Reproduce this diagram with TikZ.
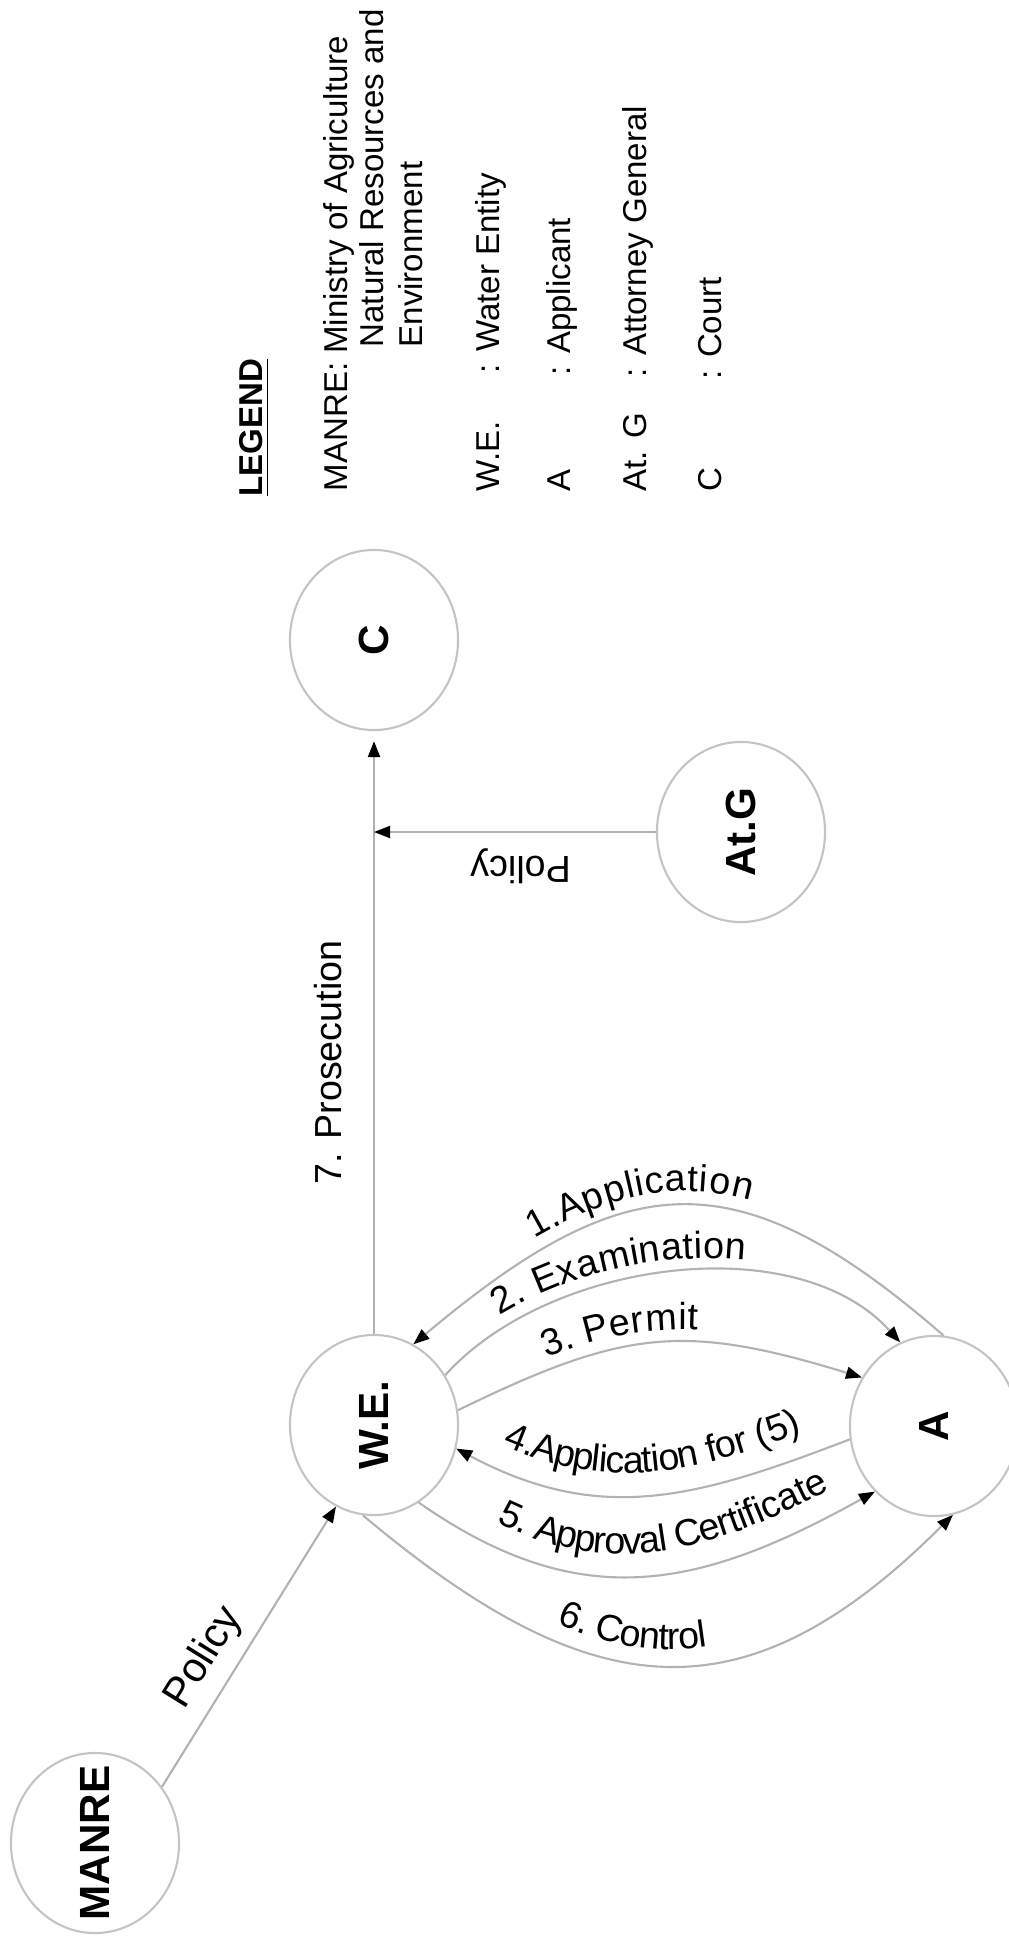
\documentclass[tikz,border=0pt]{standalone}
\usepackage{fontspec}
\setmainfont{Liberation Sans}
\usepackage{tikz}
\usetikzlibrary{arrows.meta,shapes.geometric,decorations.text}
\definecolor{corcirculo}{RGB}{196,196,196}
\definecolor{corlinha}{RGB}{178,178,178}
\newcommand{\fonterotulo}{\fontsize{10.7}{12.5}\selectfont}

\begin{document}
\begin{tikzpicture}[
  x=0.01cm, y=0.01cm,
  circulo/.style={ellipse, draw=corcirculo, line width=0.6pt,
                  minimum width=1.68cm, minimum height=1.8cm, inner sep=0pt},
  textono/.style={rotate=90, font=\fontsize{12}{14}\selectfont\bfseries},
  seta/.style={-{Triangle[length=1.6mm, width=1.2mm, color=black]},
               draw=corlinha, line width=0.6pt},
  rotulo/.style={font=\fonterotulo},
  arco/.style n args={3}{postaction={decorate, decoration={text along path,
               text={|\fonterotulo|#1}, text align=center, raise=#2, #3}}},
  legenda/.style={rotate=90, anchor=base west, inner sep=0pt,
                  font=\fontsize{9.4}{11}\selectfont}
]
  \useasboundingbox (0,0) rectangle (1008,-1941);

  % actors
  \node[circulo, label={[textono]center:MANRE}] (MANRE) at (95,-1843) {};
  \node[circulo, label={[textono]center:W.E.}] (WE) at (374,-1425) {};
  \node[circulo, label={[textono]center:A}] (A) at (934,-1426) {};
  \node[circulo, label={[textono]center:C}] (C) at (374,-640) {};
  \node[circulo, label={[textono]center:At.G}] (AtG) at (741,-832) {};
  \coordinate (junta) at (WE.north |- AtG.west);

  % policy and prosecution
  \draw[seta] (MANRE.40) -- node[rotulo, font=\fontsize{11.8}{14}\selectfont, sloped, above, pos=.4] {Policy} (WE.245);
  \draw[seta, shorten >=1mm] (WE.north) -- node[rotulo, rotate=90, above, inner ysep=8.8pt, pos=.45] {7. Prosecution} (C.south);
  \draw[seta] (AtG.west) -- node[rotulo, rotate=180, above, inner ysep=4.3pt, pos=.48] {Policy} (junta);

  % permit procedure between W.E. and A
  \draw[seta, arco={1.Application}{4pt}{reverse path, text align={center, right indent=7.4mm}}]
    (A.84) .. controls +(139:276) and +(40:276) .. (WE.64);
  \draw[seta, arco={2. Examination}{3.5pt}{text align={center, right indent=9.6mm}}]
    (WE.35) .. controls +(48:155) and +(132:155) .. (A.112);
  \draw[seta, arco={3. Permit}{3.4pt}{text align={center, right indent=6.8mm}}]
    (WE.10) .. controls +(26:186) and +(163:186) .. (A.146);
  \draw[seta, arco={4.Application for (5)}{6.5pt}{reverse path}]
    (A.189) .. controls +(201:164) and +(-28:164) .. (WE.-16);
  \draw[seta, arco={5. Approval Certificate}{6.5pt}{text align={center, left indent=4mm}}]
    (WE.-60) .. controls +(-35:199) and +(209:199) .. (A.228);
  \draw[seta, arco={6. Control}{4.6pt}{text align={center, right indent=6.4mm}}]
    (WE.-97) .. controls +(-40:297) and +(225:297) .. (A.-78);

  % legend
  \node[legenda, font=\fontsize{9.4}{11}\selectfont\bfseries] (legtit) at (262,-497) {\underline{LEGEND}};
  \node[legenda] (leg1a) at (347,-492) {MANRE: Ministry of Agriculture};
  \node[legenda] (leg1b) at (383,-348) {Natural Resources and};
  \node[legenda] (leg1c) at (422,-348) {Environment};
  \node[legenda] (leg2a) at (499,-492) {W.E.};
  \node[legenda] (leg2b) at (499,-374) {: Water Entity};
  \node[legenda] (leg3a) at (570,-492) {A};
  \node[legenda] (leg3b) at (570,-376) {: Applicant};
  \node[legenda] (leg4a) at (646,-492) {At. G};
  \node[legenda] (leg4b) at (646,-378) {: Attorney General};
  \node[legenda] (leg5a) at (721,-492) {C};
  \node[legenda] (leg5b) at (721,-380) {: Court};
\end{tikzpicture}
\end{document}
